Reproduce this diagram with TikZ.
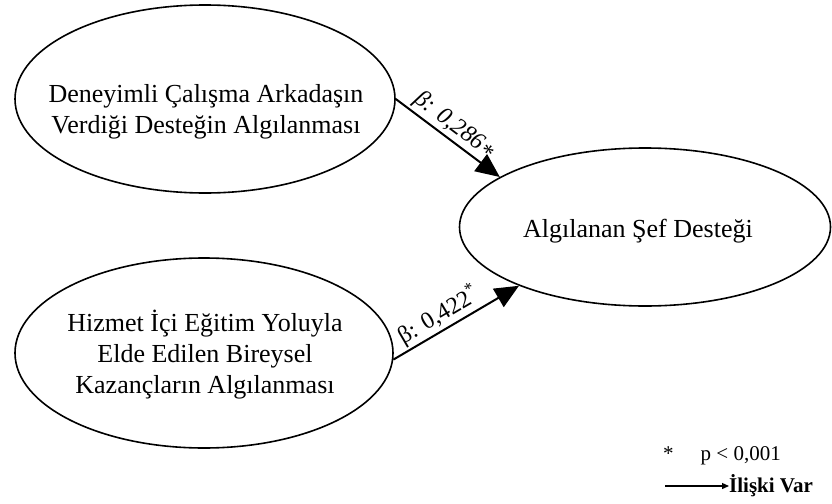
\documentclass[tikz,border=0pt]{standalone}
\usepackage{fontspec}
\setmainfont{Liberation Serif}
\usetikzlibrary{shapes.geometric,arrows.meta}

\begin{document}
\begin{tikzpicture}[x=1pt,y=1pt,
  oval/.style={draw, ellipse, line width=1.6pt, inner sep=0pt},
  txt/.style={align=center, font=\fontsize{26}{31}\selectfont},
  beta/.style={font=\fontsize{24}{28}\selectfont, inner sep=2pt},
  path/.style={line width=2pt, -{Triangle[length=24pt,width=21pt]}},
  legend/.style={font=\fontsize{21}{25}\selectfont, inner sep=0pt}
]
\useasboundingbox (0,0) rectangle (832,-503);

% latent constructs
\node[oval, minimum width=380, minimum height=188] (e1) at (205,-99) {};
\node[txt] (t1) at (206,-112) {Deneyimli Çalışma Arkadaşın\\Verdiği Desteğin Algılanması};

\node[oval, minimum width=378, minimum height=190] (e2) at (204,-353) {};
\node[txt, text depth=0pt] (t2) at (205,-352) {Hizmet İçi Eğitim Yoluyla\\Elde Edilen Bireysel\\Kazançların Algılanması};

\node[oval, minimum width=371, minimum height=158] (e3) at (645,-227) {};
\node[txt] (t3) at (638,-231) {Algılanan Şef Desteği};

% structural paths
\draw[path] (e1.east) -- node[beta, sloped, above, pos=0.48]
  {\textit{β: 0,286\raisebox{-0.35ex}{*}}} (e3.161);
\draw[path] (e2.-2) -- node[beta, sloped, above, pos=0.42]
  {β: 0,422\textsuperscript{*}} (e3.205);

% legend
\node[legend, anchor=base west] (sig) at (663,-460) {*\hspace{27pt}p < 0,001};
\node[legend, anchor=base west, font=\fontsize{21}{25}\selectfont\bfseries] (rel) at (729,-492) {İlişki Var};
\coordinate (ls) at (665,-486);
\draw[line width=1.3pt, -{Triangle[length=7pt,width=6pt]}] (ls) -- (ls -| rel.west);
\end{tikzpicture}
\end{document}
